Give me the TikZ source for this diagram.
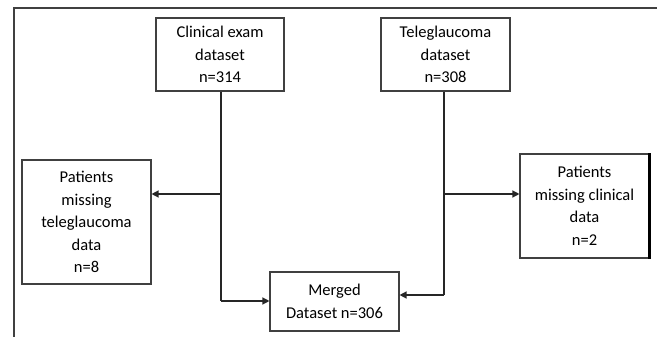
\documentclass[tikz,border=0pt]{standalone}
\usepackage{fontspec}
\setmainfont{Carlito}
\usetikzlibrary{arrows.meta}
\begin{document}
\begin{tikzpicture}[x=1pt,y=-1pt,
  boxa/.style={draw=black!75,line width=1.1pt,inner sep=0pt,align=center,font=\fontsize{16.5}{22.5}\selectfont},
  conn/.style={draw=black!85,line width=1.3pt},
  arr/.style={conn,-{Triangle[length=7pt,width=7pt]}}]
\useasboundingbox (0,0) rectangle (657,337);
\draw[black!75,line width=1.2pt] (14,337) -- (14,8) -- (657,8);
\node[boxa,minimum width=128pt,minimum height=73pt] (clin) at (220,54.5) {Clinical exam\\dataset\\n=314};
\node[boxa,minimum width=129pt,minimum height=73pt] (tele) at (445.5,54.5) {Teleglaucoma\\dataset\\n=308};
\node[boxa,minimum width=129pt,minimum height=124pt] (left) at (86.5,222) {Patients\\missing\\teleglaucoma\\data\\n=8};
\node[boxa,minimum width=129pt,minimum height=104pt] (right) at (584.5,206) {Patients\\missing clinical\\data\\n=2};
\draw[black,line width=2.2pt] (right.north east) -- (right.south east);
\node[boxa,minimum width=129pt,minimum height=59pt] (merged) at (334.5,301.5) {Merged\\Dataset n=306};
\coordinate (c1) at (221,194);
\coordinate (c2) at (221,301);
\coordinate (t1) at (444,194);
\coordinate (t2) at (444,295);
\draw[conn] (clin.south -| c1) -- (c2);
\draw[arr] (c1) -- (c1 -| left.east);
\draw[arr] (c2) -- (c2 -| merged.west);
\draw[conn] (tele.south -| t1) -- (t2);
\draw[arr] (t1) -- (t1 -| right.west);
\draw[arr] (t2) -- (t2 -| merged.east);
\end{tikzpicture}
\end{document}
